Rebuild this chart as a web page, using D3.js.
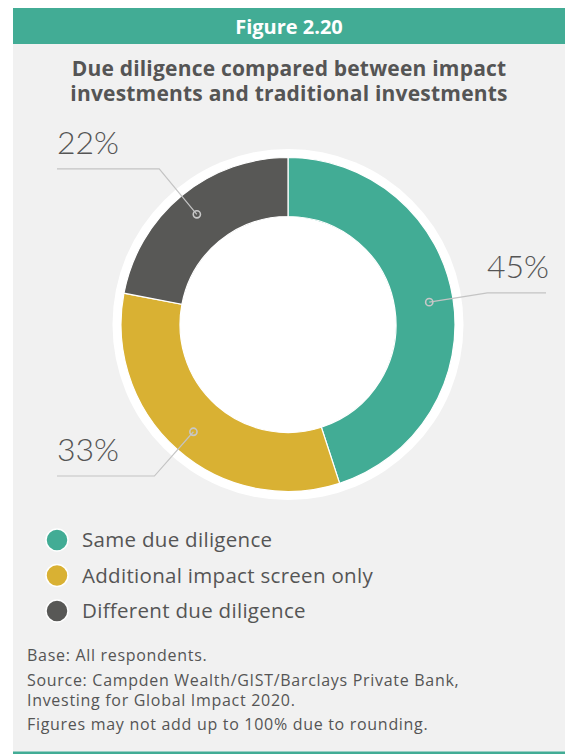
<!DOCTYPE html>
<html>
<head>
<meta charset="utf-8">
<script src="https://cdn.jsdelivr.net/npm/d3@7"></script>
<style>
  html, body { margin: 0; padding: 0; background: #ffffff; }
  svg { display: block; }
  text { font-family: "Open Sans", Lato, sans-serif; }
  .pct { font-family: Lato, "Open Sans", sans-serif; }
</style>
</head>
<body>
<svg id="chart" width="565" height="754"></svg>
<script>
// Survey shares (%) for each due-diligence approach
const categories = ["Same due diligence", "Additional impact screen only", "Different due diligence"];
const values = [45, 33, 22];
const colors = ["#42ac95", "#d9b133", "#585856"];

const figureTitle = "Figure 2.20";
const titleLines = ["Due diligence compared between impact", "investments and traditional investments"];
const notes = [
  "Base: All respondents.",
  "Source: Campden Wealth/GIST/Barclays Private Bank,",
  "Investing for Global Impact 2020.",
  "Figures may not add up to 100% due to rounding."
];

const W = 565, H = 754;
const svg = d3.select("#chart");
const teal = "#42ac95", textColor = "#555555";

// Panel and header band
svg.append("rect").attr("x", 13).attr("y", 44).attr("width", W - 13).attr("height", 708).attr("fill", "#f1f1f1");
svg.append("rect").attr("x", 13).attr("y", 8).attr("width", W - 13).attr("height", 36).attr("fill", teal);
svg.append("rect").attr("x", 13).attr("y", 751.5).attr("width", W - 13).attr("height", 3).attr("fill", teal);

svg.append("text").attr("x", 289).attr("y", 33.5).attr("text-anchor", "middle")
  .attr("fill", "#fff").attr("font-weight", 700).attr("font-size", 20).text(figureTitle);

svg.append("g").selectAll("text").data(titleLines).join("text")
  .attr("x", 289).attr("y", (d, i) => 75.5 + i * 25.5).attr("text-anchor", "middle")
  .attr("fill", textColor).attr("font-weight", 700).attr("font-size", 21)
  .attr("letter-spacing", 0.2).text(d => d);

// Donut
const cx = 288, cy = 324.5;
const rOuter = 167, rInner = 108;
const g = svg.append("g").attr("transform", `translate(${cx},${cy})`);

g.append("circle").attr("r", rOuter + 8.5).attr("fill", "#ffffff");

const pie = d3.pie().sort(null).value(d => d.value);
const arcs = pie(values.map((v, i) => ({ value: v, name: categories[i], color: colors[i] })));
const arc = d3.arc().innerRadius(rInner).outerRadius(rOuter);

g.selectAll("path.slice").data(arcs).join("path")
  .attr("class", "slice")
  .attr("d", arc)
  .attr("fill", d => d.data.color)
  .attr("stroke", "#ffffff").attr("stroke-width", 1.2);

// Leader lines and percentage labels
const dotArc = d3.arc().innerRadius(120).outerRadius(166);
const elbowArc = d3.arc().innerRadius(202).outerRadius(202);
const leftEdge = 57, rightEdge = 546;
const line = d3.line();

arcs.forEach(d => {
  const [dx, dy] = dotArc.centroid(d);
  const [ex, ey] = elbowArc.centroid(d);
  const onRight = ex > 0;
  const endX = (onRight ? rightEdge : leftEdge) - cx;
  g.append("path")
    .attr("d", line([[dx, dy], [ex, ey], [endX, ey]]))
    .attr("fill", "none").attr("stroke", "#c4c4c4").attr("stroke-width", 1.2);
  g.append("circle").attr("cx", dx).attr("cy", dy).attr("r", 3.6)
    .attr("fill", "none").attr("stroke", "#c8c8c8").attr("stroke-width", 1.6);
  g.append("text").attr("class", "pct")
    .attr("x", onRight ? endX + 3 : endX)
    .attr("y", ey - 15)
    .attr("text-anchor", onRight ? "end" : "start")
    .attr("fill", textColor).attr("font-weight", 300).attr("font-size", 32)
    .text(d.value + "%");
});

// Legend
const legend = svg.append("g").selectAll("g").data(arcs).join("g")
  .attr("transform", (d, i) => `translate(57,${540 + i * 35.5})`);
legend.append("circle").attr("r", 11).attr("fill", d => d.data.color)
  .attr("stroke", "#ffffff").attr("stroke-width", 1.5);
legend.append("text").attr("x", 25).attr("y", 7).attr("fill", textColor)
  .attr("font-size", 20.5).attr("letter-spacing", 0.3).text(d => d.data.name);

// Notes
const noteY = [661, 686, 706, 730];
svg.append("g").selectAll("text").data(notes).join("text")
  .attr("x", 27).attr("y", (d, i) => noteY[i]).attr("fill", textColor)
  .attr("font-size", 16).attr("letter-spacing", 0.7).text(d => d);
</script>
</body>
</html>
